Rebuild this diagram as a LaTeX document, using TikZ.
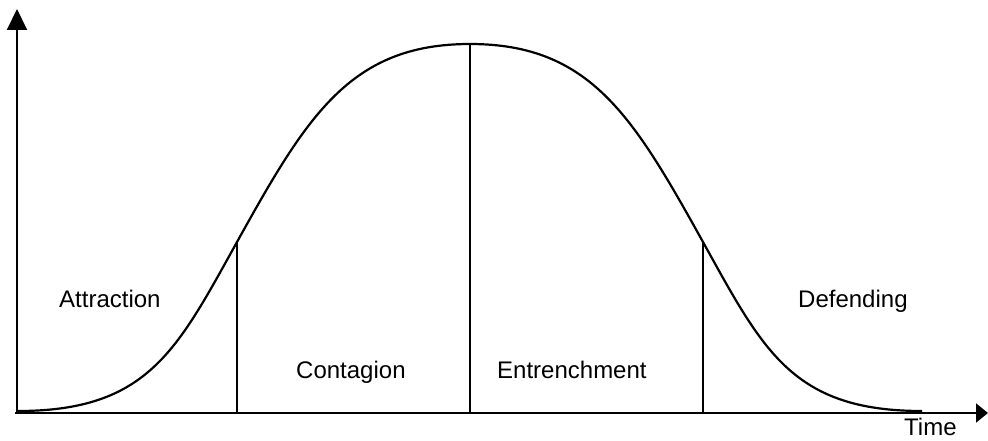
\documentclass[tikz,border=0pt]{standalone}
\usepackage{fontspec}
\setmainfont{Liberation Sans}
\usetikzlibrary{arrows.meta}
\begin{document}
\begin{tikzpicture}[x=1pt,y=-1pt,
  axisline/.style={line width=2pt},
  curveline/.style={line width=2.2pt},
  divider/.style={line width=1.3pt},
  phase/.style={anchor=base west, inner sep=0pt, font=\fontsize{24}{28}\selectfont}]
\useasboundingbox (0,0) rectangle (988,441);
% axes
\coordinate (O) at (17,413);
\coordinate (ytip) at (17,9);
\coordinate (xtip) at (988,413);
\coordinate (xstart) at (15,413);
\draw[axisline, -{Triangle[length=21pt,width=20pt]}] (O) -- (ytip);
\draw[axisline, -{Triangle[length=12pt,width=19pt]}] (xstart) -- (xtip);
% curve key points
\coordinate (start) at (18,411);
\coordinate (infl1) at (237,242);
\coordinate (peak) at (470,44);
\coordinate (infl2) at (703,242);
\coordinate (end) at (922,411);
\coordinate (b1) at (237,413);
\coordinate (b2) at (470,413);
\coordinate (b3) at (703,413);
\draw[curveline] (start) .. controls (148,411) and (177,350) .. (infl1)
  .. controls (307,116) and (350,44) .. (peak)
  .. controls (590,44) and (633,116) .. (infl2)
  .. controls (763,350) and (792,411) .. (end);
\draw[divider] (infl1) -- (b1);
\draw[divider] (peak) -- (b2);
\draw[divider] (infl2) -- (b3);
% labels
\node[phase] (attraction) at (59,307) {Attraction};
\node[phase] (contagion) at (296,378) {Contagion};
\node[phase] (entrenchment) at (497,378) {Entrenchment};
\node[phase] (defending) at (798,307) {Defending};
\node[phase] (time) at (904,435) {Time};
\end{tikzpicture}
\end{document}
